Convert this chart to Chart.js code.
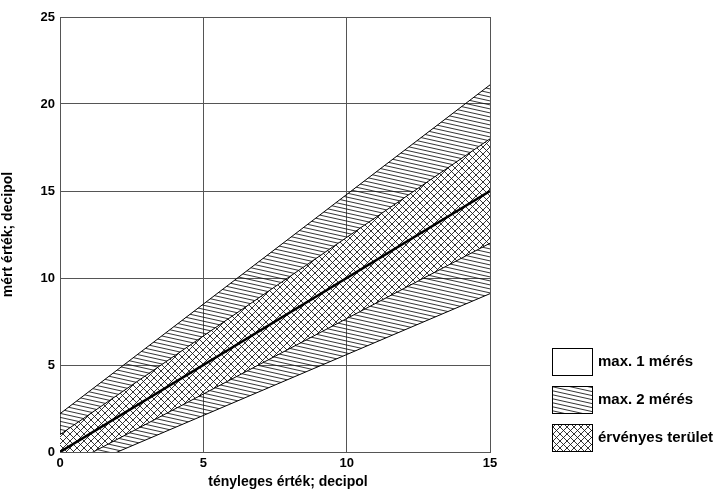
<!DOCTYPE html>
<html>
<head>
<meta charset="utf-8">
<script src="https://cdn.jsdelivr.net/npm/chart.js@4.4.1/dist/chart.umd.min.js"></script>
<style>
  html, body { margin: 0; padding: 0; background: #fff; }
  #wrap { width: 717px; height: 493px; }
</style>
</head>
<body>
<div id="wrap"><canvas id="chart" width="717" height="493"></canvas></div>
<script>
'use strict';

// band end points at x = 0 and x = 15
var xValues = [0, 15];
var centerLine = [0, 15];
var innerUpper = [1, 18];
var innerLower = [-1, 12];
var outerUpper = [2.2, 21.1];
var outerLower = [-1.4, 9.1];

var legendLabels = ['max. 1 mérés', 'max. 2 mérés', 'érvényes terület'];
var xTitle = 'tényleges érték; decipol';
var yTitle = 'mért érték; decipol';

var FONT = '"Liberation Sans", Arial, sans-serif';

function toPoints(ys) {
  var pts = [];
  for (var i = 0; i < xValues.length; i++) {
    pts.push({ x: xValues[i], y: ys[i] });
  }
  return pts;
}

// shallow hatch, lines going down to the right
function hatchPattern() {
  var w = 18, h = 4;
  var c = document.createElement('canvas');
  c.width = w; c.height = h;
  var g = c.getContext('2d');
  g.strokeStyle = '#111';
  g.lineWidth = 0.85;
  for (var k = -1; k <= 1; k++) {
    g.beginPath();
    g.moveTo(-1, -h / w + k * h);
    g.lineTo(w + 1, h + h / w + k * h);
    g.stroke();
  }
  return g.createPattern(c, 'repeat');
}

// 45 degree cross hatch on white
function crossPattern() {
  var s = 7;
  var c = document.createElement('canvas');
  c.width = s; c.height = s;
  var g = c.getContext('2d');
  g.fillStyle = '#fff';
  g.fillRect(0, 0, s, s);
  g.strokeStyle = '#111';
  g.lineWidth = 0.85;
  for (var k = -1; k <= 1; k++) {
    g.beginPath();
    g.moveTo(-1 + k * s, -1);
    g.lineTo(s + 1 + k * s, s + 1);
    g.stroke();
    g.beginPath();
    g.moveTo(-1 + k * s, s + 1);
    g.lineTo(s + 1 + k * s, -1);
    g.stroke();
  }
  return g.createPattern(c, 'repeat');
}

var ctx = document.getElementById('chart').getContext('2d');
var hatch = hatchPattern();
var cross = crossPattern();

//legend and x title drawn by hand
var legendPlugin = {
  id: 'sideLegend',
  afterDraw: function (chart) {
    var g = chart.ctx;
    var fills = ['#fff', hatch, cross];
    g.save();
    for (var i = 0; i < legendLabels.length; i++) {
      var top = 348 + i * 38;
      g.fillStyle = fills[i];
      g.fillRect(552, top, 40, 27);
      g.strokeStyle = '#000';
      g.lineWidth = 1;
      g.strokeRect(552.5, top + 0.5, 40, 27);
      g.fillStyle = '#000';
      g.font = 'bold 15px ' + FONT;
      g.textBaseline = 'middle';
      g.textAlign = 'left';
      g.fillText(legendLabels[i], 598, top + 14);
    }
    g.font = 'bold 14px ' + FONT;
    g.textAlign = 'center';
    g.textBaseline = 'middle';
    g.fillText(xTitle, 288, 482);
    g.restore();
  }
};

var lineBase = {
  borderColor: '#000',
  borderWidth: 1,
  pointRadius: 0,
  tension: 0,
  fill: false
};

var chart = new Chart(ctx, {
  type: 'line',
  data: {
    datasets: [
      Object.assign({}, lineBase, { label: 'center', data: toPoints(centerLine), borderWidth: 2.5 }),
      Object.assign({}, lineBase, { label: 'inner lower', data: toPoints(innerLower) }),
      Object.assign({}, lineBase, { label: 'inner upper', data: toPoints(innerUpper), fill: 1, backgroundColor: cross }),
      Object.assign({}, lineBase, { label: 'outer lower', data: toPoints(outerLower) }),
      Object.assign({}, lineBase, { label: 'outer upper', data: toPoints(outerUpper), fill: 3, backgroundColor: hatch })
    ]
  },
  options: {
    responsive: false,
    animation: false,
    layout: { padding: { left: 0, right: 227, top: 17, bottom: 0 } },
    plugins: { legend: { display: false }, tooltip: { enabled: false } },
    scales: {
      x: {
        type: 'linear',
        min: 0,
        max: 15,
        afterFit: function (scale) { scale.height = 41; },
        grid: { color: '#555', lineWidth: 1, drawTicks: false },
        border: { color: '#555' },
        ticks: {
          stepSize: 5,
          color: '#000',
          padding: 4,
          font: { family: FONT, weight: 'bold', size: 13 }
        }
      },
      y: {
        min: 0,
        max: 25,
        afterFit: function (scale) { scale.width = 60; },
        grid: { color: '#555', lineWidth: 1, drawTicks: false },
        border: { color: '#555' },
        ticks: {
          stepSize: 5,
          color: '#000',
          padding: 5,
          font: { family: FONT, weight: 'bold', size: 13 }
        },
        title: {
          display: true,
          text: yTitle,
          color: '#000',
          padding: { top: 0, bottom: 10 },
          font: { family: FONT, weight: 'bold', size: 14 }
        }
      }
    }
  },
  plugins: [legendPlugin]
});
</script>
</body>
</html>
